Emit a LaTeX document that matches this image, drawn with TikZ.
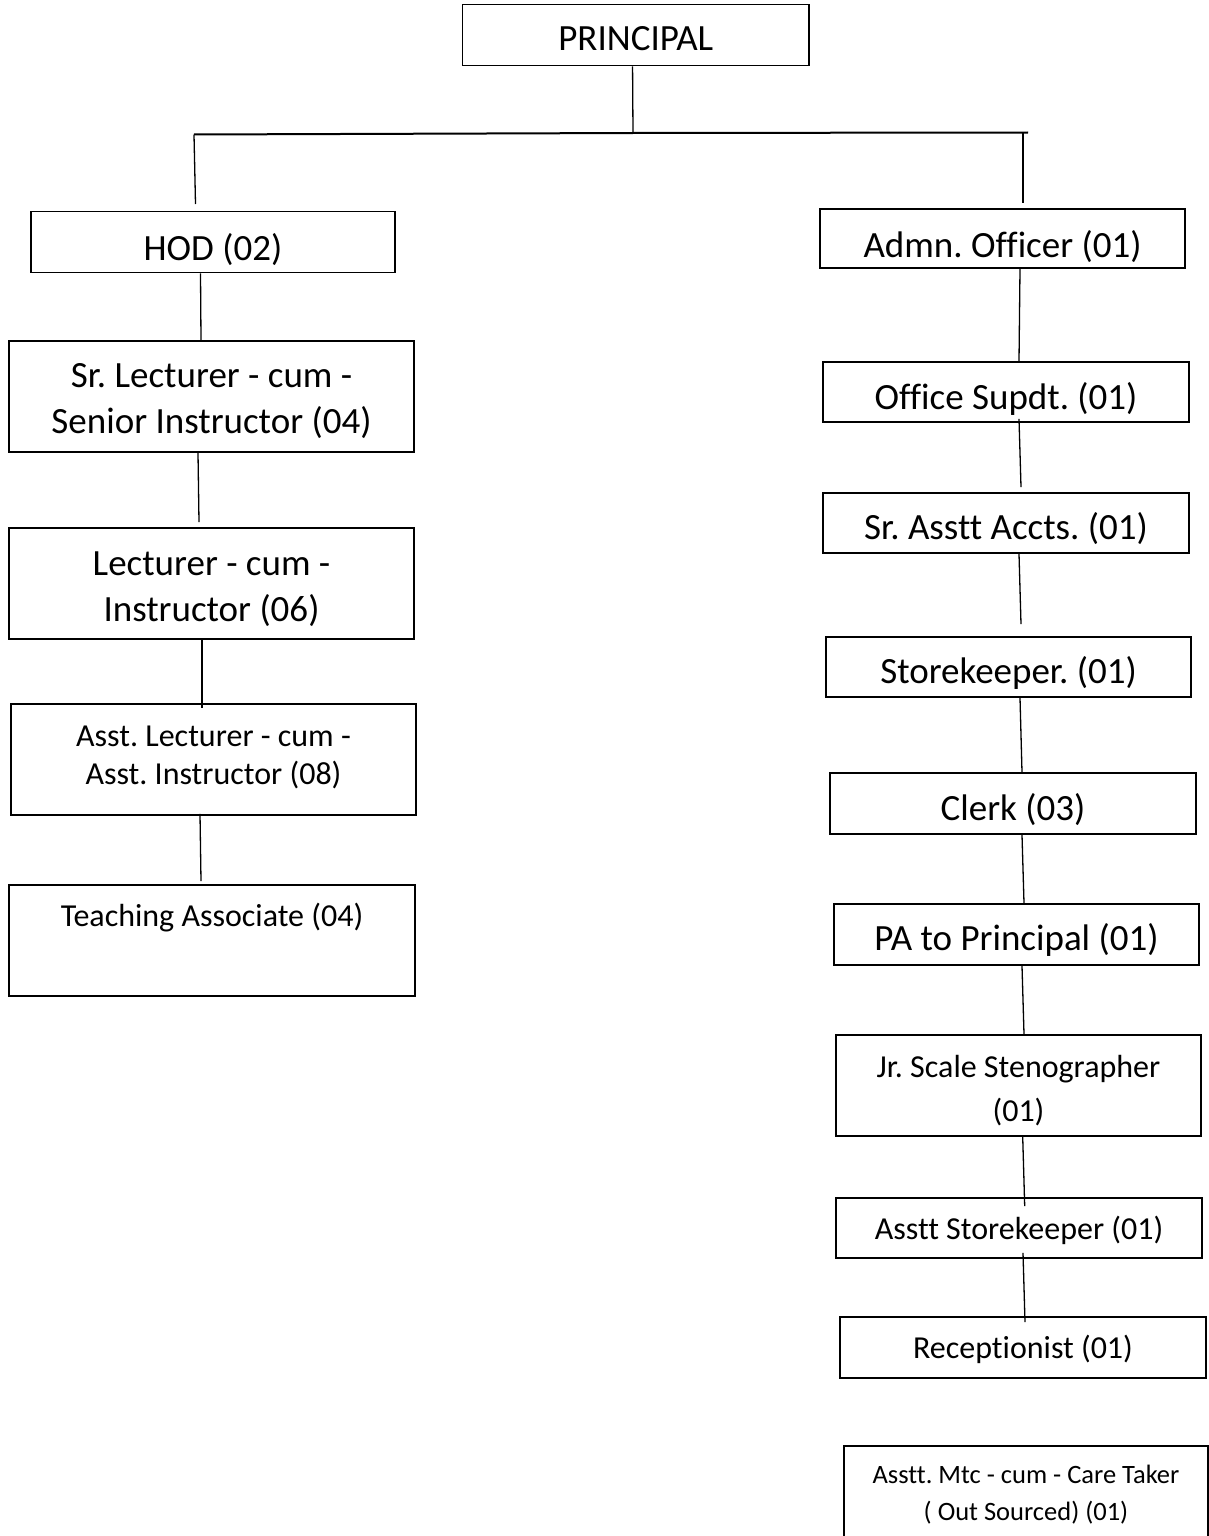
\documentclass[tikz,border=0pt]{standalone}
\usepackage{fontspec}
\setmainfont{Carlito}[Ligatures=CommonOff]
\usepackage{tikz}
\tikzset{edge/.style = {line width=0.65pt}}
\frenchspacing

\begin{document}
\begin{tikzpicture}[x=0.5pt,y=-0.5pt,
    main node/.style={rectangle,draw,line width=0.9pt,inner sep=0pt,align=center,minimum width=182.5pt},
    big/.style={font=\fontsize{18.5}{23}\selectfont},
    small/.style={font=\fontsize{16}{19}\selectfont}]
    \useasboundingbox (0,0) rectangle (1209,1536);

    \node[main node,big,minimum width=173.25pt,minimum height=30.5pt,text height=15.4pt,text depth=0pt] (1) at (635.75,35) {PRINCIPAL};

    \node[main node,big,minimum width=182pt,minimum height=30.5pt,text height=18.9pt,text depth=0pt] (2) at (213,242) {HOD (02)};
    \node[main node,big,minimum width=202.5pt,minimum height=55.5pt,text height=37.4pt,text depth=0pt] (3) at (211.5,396.5) {Sr. Lecturer - cum -\\Senior Instructor (04)};
    \node[main node,big,minimum width=202.5pt,minimum height=55.5pt,text height=38.4pt,text depth=0pt] (4) at (211.5,583.5) {Lecturer - cum -\\Instructor (06)};
    \node[main node,small,minimum width=202.5pt,minimum height=55.5pt,text height=24.8pt,text depth=0pt] (5) at (213.5,759.5) {Asst. Lecturer - cum -\\Asst. Instructor (08)};
    \node[main node,small,minimum width=203pt,minimum height=55.5pt,text height=0pt,text depth=13.7pt] (6) at (212,940.5) {Teaching Associate (04)};

    \node[main node,big,minimum height=29.5pt,text height=18.9pt,text depth=0pt] (7) at (1002.5,238.5) {Admn. Officer (01)};
    \node[main node,big,minimum width=183pt,minimum height=30pt,text height=17.4pt,text depth=0pt] (8) at (1006,392) {Office Supdt. (01)};
    \node[main node,big,minimum width=183pt,minimum height=30pt,text height=16.4pt,text depth=0pt] (9) at (1006,523) {Sr. Asstt Accts. (01)};
    \node[main node,big,minimum height=30pt,text height=16.9pt,text depth=0pt] (10) at (1008.5,667) {Storekeeper. (01)};
    \node[main node,big,minimum width=183pt,minimum height=30.5pt,text height=16.9pt,text depth=0pt] (11) at (1013,803.5) {Clerk (03)};
    \node[main node,big,minimum height=30.5pt,text height=16.4pt,text depth=0pt] (12) at (1016.5,934.5) {PA to Principal (01)};
    \node[main node,font=\fontsize{16}{21.75}\selectfont,minimum height=50.5pt,text height=35.8pt,text depth=0pt] (13) at (1018.5,1085.5) {Jr. Scale Stenographer\\(01)};
    \node[main node,small,minimum width=183pt,minimum height=30pt,text height=11.8pt,text depth=0pt] (14) at (1019,1228) {Asstt Storekeeper (01)};
    \node[main node,small,minimum width=183pt,minimum height=30.5pt,text height=10.8pt,text depth=0pt] (15) at (1023,1347.5) {Receptionist (01)};
    \node[main node,font=\fontsize{13.25}{18.25}\selectfont,minimum width=182pt,minimum height=50pt,text height=24pt,text depth=0pt] (16) at (1026,1496) {Asstt. Mtc - cum - Care Taker\\( Out Sourced) (01)};

    \coordinate (j) at (633,133);
    \coordinate (jl) at (194,134.5);
    \coordinate (jlb) at (195.5,204);
    \coordinate (jr) at (1023,132.5);
    \coordinate (jre) at (1028,132.5);
    \coordinate (jrb) at (1023,203);

    \draw[edge] ([xshift=-1.6pt]1.south) -- (j);
    \draw[line width=1pt] (jl) -- (j) -- (jre);
    \draw[edge] (jl) -- (jlb);
    \draw[edge] (jr) -- (jrb);

    \draw[edge] ([xshift=-6.25pt]2.south) -- ([xshift=-5.25pt]3.north);
    \draw[edge] ([xshift=-6.75pt]3.south) -- ([xshift=-6.25pt,yshift=2.5pt]4.north);
    \draw[edge] ([xshift=-4.75pt]4.south) -- ([xshift=-5.75pt,yshift=-2.5pt]5.north);
    \draw[edge] ([xshift=-6.75pt,yshift=1pt]5.south) -- ([xshift=-5.5pt,yshift=1.5pt]6.north);

    \draw[edge] ([xshift=8.75pt]7.south) -- ([xshift=6.5pt]8.north);
    \draw[edge] ([xshift=6.5pt,yshift=2pt]8.south) -- ([xshift=7.5pt,yshift=2.5pt]9.north);
    \draw[edge] ([xshift=6.5pt]9.south) -- ([xshift=6.25pt,yshift=6pt]10.north);
    \draw[edge] ([xshift=5.75pt]10.south) -- ([xshift=4.5pt]11.north);
    \draw[edge] ([xshift=4.5pt]11.south) -- ([xshift=3.75pt]12.north);
    \draw[edge] ([xshift=2.75pt]12.south) -- ([xshift=2.75pt]13.north);
    \draw[edge] ([xshift=2.1pt]13.south) -- ([xshift=2.85pt,yshift=-4.5pt]14.north);
    \draw[edge] ([xshift=2pt,yshift=3pt]14.south) -- ([xshift=1pt,yshift=-3pt]15.north);
\end{tikzpicture}
\end{document}
